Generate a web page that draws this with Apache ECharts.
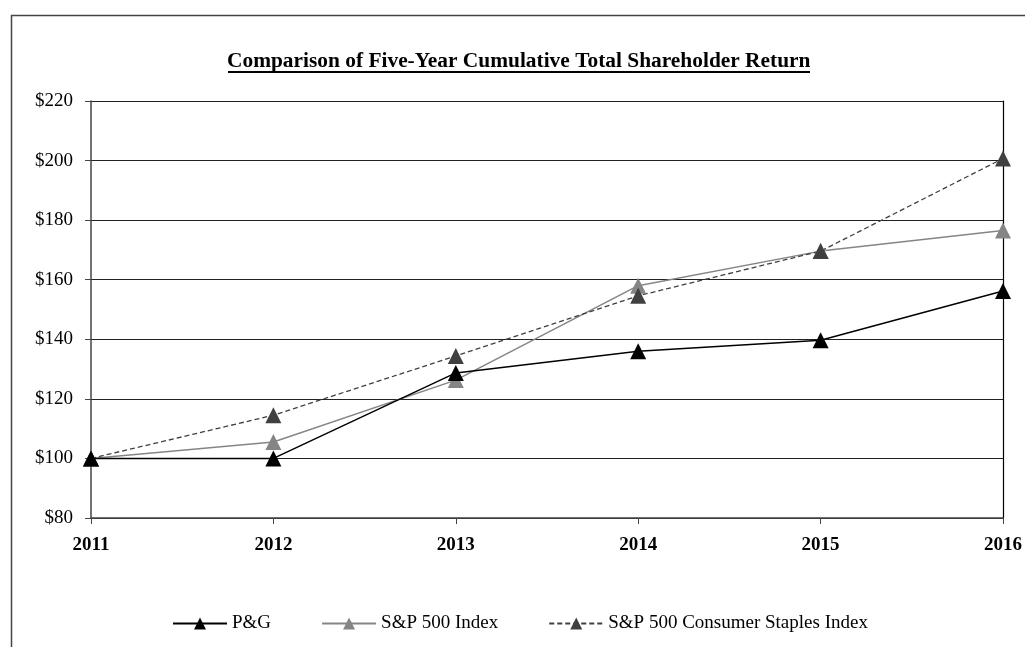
<!DOCTYPE html>
<html>
<head>
<meta charset="UTF-8">
<script src="https://cdn.jsdelivr.net/npm/echarts@6/dist/echarts.min.js"></script>
<style>
html, body { margin: 0; padding: 0; background: #fff; }
#main { width: 1025px; height: 647px; }
</style>
</head>
<body>
<div id="main"></div>
<script>
var years = ['2011', '2012', '2013', '2014', '2015', '2016'];
var pg = [100, 100, 128.7, 136, 139.7, 156.2];
var sp500 = [100, 105.5, 126.3, 158, 169.6, 176.5];
var staples = [100, 114.5, 134.4, 154.6, 169.6, 200.7];

var serif = '"Liberation Serif", "Times New Roman", serif';
var myChart = echarts.init(document.getElementById('main'));

var option = {
    backgroundColor: '#fff',
    animation: false,
    title: {
        text: 'Comparison of Five-Year Cumulative Total Shareholder Return',
        left: 222,
        top: 46,
        textStyle: { fontFamily: serif, fontWeight: 'bold', fontSize: 21.4, color: '#000' }
    },
    graphic: [
        { type: 'rect', left: 9, top: 13, shape: { width: 1040, height: 660 },
          style: { fill: 'none', stroke: '#444', lineWidth: 1.5 } },
        { type: 'rect', left: 228, top: 71, shape: { width: 582, height: 2 },
          style: { fill: '#000' } }
    ],
    legend: {
        bottom: 9,
        left: 167,
        itemWidth: 54,
        itemHeight: 15,
        itemGap: 50,
        textStyle: { fontFamily: serif, fontSize: 19, color: '#000' },
        data: ['P&G', 'S&P 500 Index', 'S&P 500 Consumer Staples Index']
    },
    grid: { left: 91, right: 21, top: 101, bottom: 129 },
    xAxis: {
        type: 'category',
        data: years,
        boundaryGap: false,
        axisLine: { lineStyle: { color: '#444', width: 1.5 } },
        axisTick: { alignWithLabel: true, length: 6, lineStyle: { color: '#444' } },
        axisLabel: { fontFamily: serif, fontWeight: 'bold', fontSize: 19, color: '#000', margin: 18 }
    },
    yAxis: [
        {
            type: 'value',
            min: 80,
            max: 220,
            interval: 20,
            axisLine: { show: true, lineStyle: { color: '#444', width: 1.5 } },
            axisTick: { show: true, length: 6, lineStyle: { color: '#444' } },
            axisLabel: { fontFamily: serif, fontSize: 19, color: '#000', margin: 18,
                formatter: function (v) { return '$' + v; } },
            splitLine: { lineStyle: { color: '#222', width: 1 } }
        },
        {
            type: 'value',
            position: 'right',
            min: 80,
            max: 220,
            interval: 20,
            axisLine: { show: true, lineStyle: { color: '#000', width: 1.2 } },
            axisTick: { show: false },
            axisLabel: { show: false },
            splitLine: { show: false }
        }
    ],
    series: [
        {
            name: 'S&P 500 Index', type: 'line', data: sp500,
            symbol: 'triangle', symbolSize: 16,
            itemStyle: { color: '#858585' },
            lineStyle: { color: '#858585', width: 1.5 }
        },
        {
            name: 'S&P 500 Consumer Staples Index', type: 'line', data: staples,
            symbol: 'triangle', symbolSize: 16,
            itemStyle: { color: '#404040' },
            lineStyle: { color: '#404040', width: 1.3, type: [5, 3] }
        },
        {
            name: 'P&G', type: 'line', data: pg,
            symbol: 'triangle', symbolSize: 16,
            itemStyle: { color: '#000' },
            lineStyle: { color: '#000', width: 1.5 }
        }
    ]
};

myChart.setOption(option);
</script>
</body>
</html>
